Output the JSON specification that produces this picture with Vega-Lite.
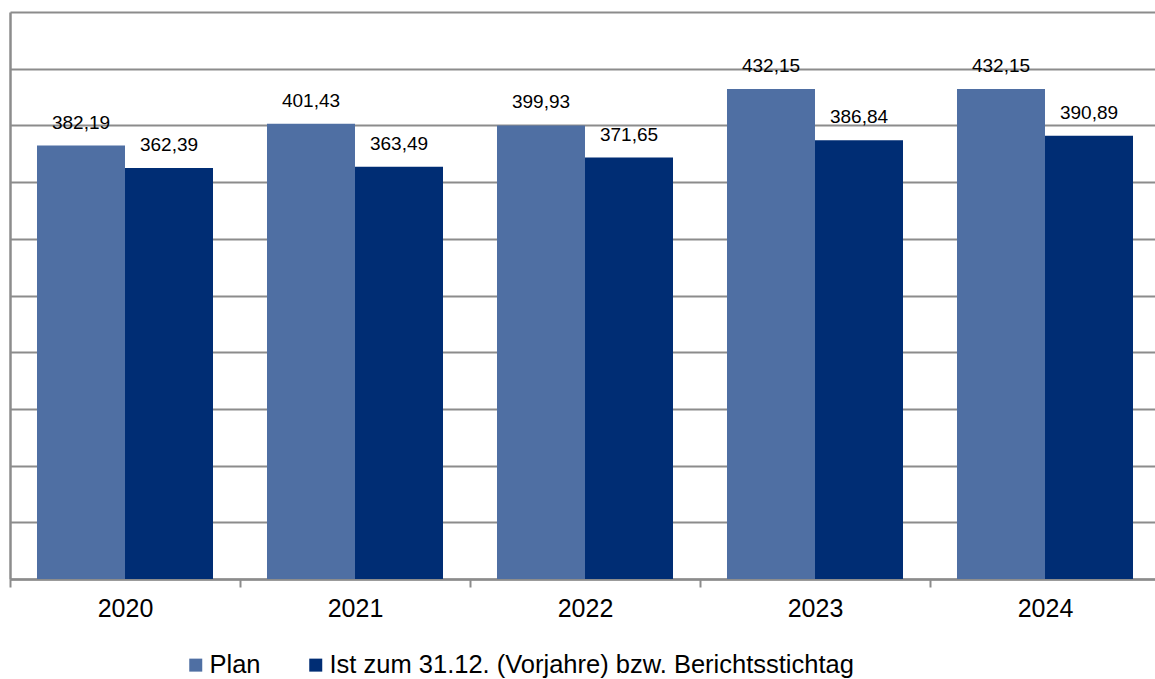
{
  "$schema": "https://vega.github.io/schema/vega-lite/v6.json",
  "width": 1145,
  "height": 567,
  "padding": {"left": 10, "top": 12, "right": 0, "bottom": 100},
  "autosize": {"type": "none"},
  "background": "white",
  "config": {
    "font": "Liberation Sans",
    "view": {"stroke": null},
    "locale": {"number": {"decimal": ",", "thousands": ".", "grouping": [3], "currency": ["", " €"]}}
  },
  "data": {
    "values": [
      {"year": "2020", "series": "Plan", "value": 382.19},
      {"year": "2020", "series": "Ist zum 31.12. (Vorjahre) bzw. Berichtsstichtag", "value": 362.39},
      {"year": "2021", "series": "Plan", "value": 401.43},
      {"year": "2021", "series": "Ist zum 31.12. (Vorjahre) bzw. Berichtsstichtag", "value": 363.49},
      {"year": "2022", "series": "Plan", "value": 399.93},
      {"year": "2022", "series": "Ist zum 31.12. (Vorjahre) bzw. Berichtsstichtag", "value": 371.65},
      {"year": "2023", "series": "Plan", "value": 432.15},
      {"year": "2023", "series": "Ist zum 31.12. (Vorjahre) bzw. Berichtsstichtag", "value": 386.84},
      {"year": "2024", "series": "Plan", "value": 432.15},
      {"year": "2024", "series": "Ist zum 31.12. (Vorjahre) bzw. Berichtsstichtag", "value": 390.89}
    ]
  },
  "encoding": {
    "x": {
      "field": "year",
      "type": "nominal",
      "scale": {"range": [0, 1150], "paddingInner": 0, "paddingOuter": 0},
      "axis": {
        "title": null,
        "labelAngle": 0,
        "labelFontSize": 25,
        "labelColor": "#000000",
        "labelPadding": 9,
        "domainColor": "#8c8c8c",
        "domainWidth": 2.5,
        "tickBand": "extent",
        "tickSize": 8,
        "tickColor": "#8c8c8c",
        "tickWidth": 2,
        "grid": false
      }
    },
    "xOffset": {
      "field": "series",
      "type": "nominal",
      "sort": ["Plan", "Ist zum 31.12. (Vorjahre) bzw. Berichtsstichtag"],
      "scale": {"paddingInner": 0, "paddingOuter": 0.3068}
    },
    "y": {
      "field": "value",
      "type": "quantitative",
      "scale": {"domain": [0, 500], "nice": false},
      "axis": {
        "title": null,
        "labels": false,
        "ticks": false,
        "values": [0, 50, 100, 150, 200, 250, 300, 350, 400, 450, 500],
        "grid": true,
        "gridColor": "#8c8c8c",
        "gridWidth": 2,
        "domainColor": "#8c8c8c",
        "domainWidth": 2.5
      }
    }
  },
  "layer": [
    {
      "mark": {"type": "bar"},
      "encoding": {
        "color": {
          "field": "series",
          "type": "nominal",
          "sort": ["Plan", "Ist zum 31.12. (Vorjahre) bzw. Berichtsstichtag"],
          "scale": {"domain": ["Plan", "Ist zum 31.12. (Vorjahre) bzw. Berichtsstichtag"], "range": ["#4f6fa3", "#002d74"]},
          "legend": {
            "title": null,
            "orient": "none",
            "direction": "horizontal",
            "legendX": 173,
            "legendY": 640,
            "symbolType": "square",
            "symbolSize": 169,
            "symbolStrokeWidth": 0,
            "labelFontSize": 25.5,
            "labelColor": "#000000",
            "labelOffset": 1,
            "labelLimit": 0,
            "columnPadding": 42
          }
        }
      }
    },
    {
      "mark": {"type": "text", "baseline": "alphabetic", "align": "center", "dy": -17, "fontSize": 19, "color": "#000000"},
      "encoding": {
        "text": {"field": "value", "type": "quantitative", "format": ".2f"}
      }
    }
  ]
}
